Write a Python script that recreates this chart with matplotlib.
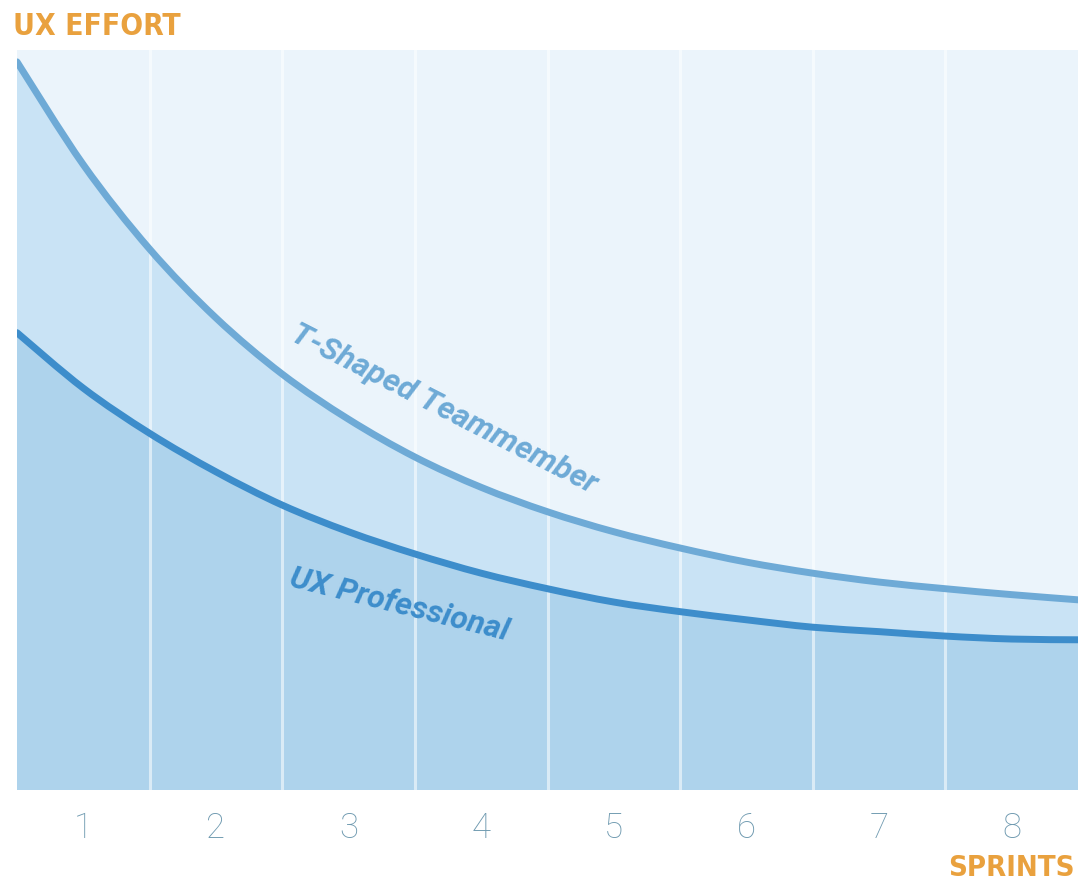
import matplotlib
matplotlib.use("Agg")
import matplotlib.pyplot as plt
from matplotlib import font_manager
from matplotlib.font_manager import FontProperties
from matplotlib.path import Path
from matplotlib.patches import PathPatch

# ---- data ----
sprints = ["1", "2", "3", "4", "5", "6", "7", "8"]
x_pos = [0.0, 0.5, 1.0, 1.5, 2.0, 2.5, 3.0, 3.5, 4.0, 4.5, 5.0, 5.5, 6.0, 6.5, 7.0, 7.5, 8.0]
t_shaped = [98.4, 84.5, 73.1, 63.8, 56.2, 50.1, 45.0, 40.9, 37.6, 34.9, 32.7, 30.8, 29.3, 28.1, 27.2, 26.4, 25.7]
ux_pro = [61.8, 54.3, 48.2, 43.0, 38.5, 34.9, 31.9, 29.3, 27.2, 25.4, 24.1, 23.0, 22.0, 21.4, 20.8, 20.4, 20.3]
label_t = "T-Shaped Teammember"
label_ux = "UX Professional"
y_title = "UX EFFORT"
x_title = "SPRINTS"

# ---- style ----
bg_top = "#ebf4fb"
fill_mid = "#c9e3f5"
fill_low = "#aed3ec"
col_t = "#6eaad6"
col_ux = "#3d8dcb"
orange = "#e9a13e"
tick_col = "#6f9ab0"

available = {f.name for f in font_manager.fontManager.ttflist}
label_font = "Roboto" if "Roboto" in available else "DejaVu Sans"


def _w(f):
    w = f.weight
    if isinstance(w, str):
        w = font_manager.weight_dict.get(w, 400)
    return w


# look for a bold condensed / narrow face for the orange titles
cands = [f for f in font_manager.fontManager.ttflist
         if ("Condensed" in f.name or "Narrow" in f.name or
             str(f.stretch) in ("condensed", "semi-condensed", "extra-condensed"))
         and f.style == "normal"]
if cands:
    best = min(cands, key=lambda f: abs(_w(f) - 700))
    title_fp = FontProperties(fname=best.fname)
else:
    title_fp = FontProperties(family="DejaVu Sans", weight="bold")


def smooth_segments(xs, ys):
    """Catmull-Rom curve through the points, expressed as cubic Bezier segments."""
    pts = list(zip(xs, ys))
    n = len(pts)
    segs = []
    for i in range(n - 1):
        p0 = pts[i - 1] if i > 0 else pts[i]
        p1 = pts[i]
        p2 = pts[i + 1]
        p3 = pts[i + 2] if i + 2 < n else pts[i + 1]
        c1 = (p1[0] + (p2[0] - p0[0]) / 6, p1[1] + (p2[1] - p0[1]) / 6)
        c2 = (p2[0] - (p3[0] - p1[0]) / 6, p2[1] - (p3[1] - p1[1]) / 6)
        segs.append((p1, c1, c2, p2))
    return segs


def curve_path(xs, ys):
    segs = smooth_segments(xs, ys)
    verts = [segs[0][0]]
    codes = [Path.MOVETO]
    for _, c1, c2, p2 in segs:
        verts += [c1, c2, p2]
        codes += [Path.CURVE4] * 3
    return verts, codes


def reversed_curve(xs, ys):
    segs = smooth_segments(xs, ys)
    verts, codes = [], []
    for p1, c1, c2, p2 in reversed(segs):
        verts += [c2, c1, p1]
        codes += [Path.CURVE4] * 3
    return verts, codes


fig = plt.figure(figsize=(10.81, 8.82), dpi=100)
ax = fig.add_axes([17 / 1081, (882 - 790) / 882, 1061 / 1081, 740 / 882])
ax.set_facecolor(bg_top)
ax.set_xlim(0, 8)
ax.set_ylim(0, 100)

# lower fill (under UX professional)
v, c = curve_path(x_pos, ux_pro)
v = v + [(x_pos[-1], 0), (x_pos[0], 0), v[0]]
c = c + [Path.LINETO, Path.LINETO, Path.CLOSEPOLY]
ax.add_patch(PathPatch(Path(v, c), facecolor=fill_low, edgecolor="none", zorder=1))

# middle fill (between curves)
v1, c1 = curve_path(x_pos, t_shaped)
v2, c2 = reversed_curve(x_pos, ux_pro)
v = v1 + [(x_pos[-1], ux_pro[-1])] + v2 + [v1[0]]
c = c1 + [Path.LINETO] + c2 + [Path.CLOSEPOLY]
ax.add_patch(PathPatch(Path(v, c), facecolor=fill_mid, edgecolor="none", zorder=1))

for i in range(1, 8):
    ax.axvline(i, color="white", alpha=0.55, lw=2.2, zorder=2)

for ys, col in ((t_shaped, col_t), (ux_pro, col_ux)):
    v, c = curve_path(x_pos, ys)
    ax.add_patch(PathPatch(Path(v, c), facecolor="none", edgecolor=col, lw=5.0,
                           capstyle="round", zorder=3))

ax.text(3.22, 51.5, label_t, rotation=-27, rotation_mode="anchor", ha="center", va="center",
        fontsize=23, color=col_t, fontstyle="italic", fontweight="bold", family=label_font, zorder=4)
ax.text(2.88, 25.0, label_ux, rotation=-14, rotation_mode="anchor", ha="center", va="center",
        fontsize=23, color=col_ux, fontstyle="italic", fontweight="bold", family=label_font, zorder=4)

ax.set_xticks([i + 0.5 for i in range(8)])
ax.set_xticklabels(sprints, fontsize=25, color=tick_col, family=label_font, fontweight="light")
ax.tick_params(axis="x", length=0, pad=15.5)
ax.set_yticks([])
for s in ax.spines.values():
    s.set_visible(False)

t1 = fig.text(13 / 1081, 1 - 35 / 882, y_title, fontproperties=title_fp,
              color=orange, ha="left", va="baseline")
t2 = fig.text(1075 / 1081, 1 - 876 / 882, x_title, fontproperties=title_fp,
              color=orange, ha="right", va="baseline")
t1.set_fontsize(26)
t2.set_fontsize(26)

# fit the titles to the widths seen in the picture
fig.canvas.draw()
r = fig.canvas.get_renderer()
for t, target in ((t1, 168), (t2, 127)):
    w = t.get_window_extent(r).width
    t.set_fontsize(min(26 * target / w, 30))

fig.savefig("out.png", dpi=100, facecolor="white")
